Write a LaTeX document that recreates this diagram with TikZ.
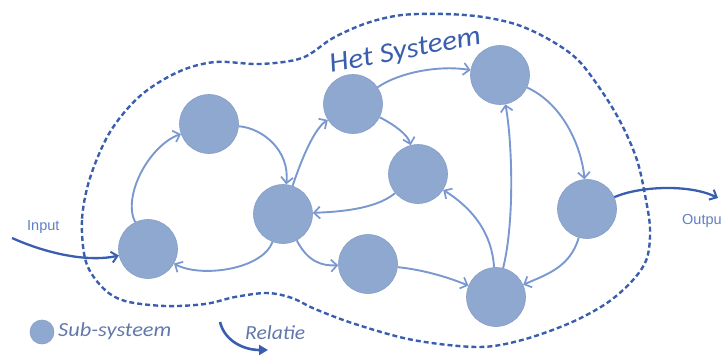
\documentclass[tikz,border=0pt]{standalone}
\usepackage{fontspec}
\newfontfamily\handfont{Carlito}
\newfontfamily\labfont{Liberation Sans}
\usetikzlibrary{arrows.meta}
\definecolor{nodefill}{RGB}{143,168,208}
\definecolor{nodeedge}{RGB}{135,158,200}
\definecolor{edgeblue}{RGB}{122,152,208}
\definecolor{darkblue}{RGB}{58,94,175}
\definecolor{labblue}{RGB}{95,128,196}
\definecolor{legtext}{RGB}{98,120,172}
\tikzset{
  sub/.style={circle,fill=nodefill,draw=nodeedge,line width=0.6pt,minimum size=59pt,inner sep=0pt},
  rel/.style={draw=edgeblue,line width=1.9pt,-{Straight Barb[length=6pt,width=12pt,line width=1.7pt]}},
  io/.style={draw=darkblue,line width=2.3pt,-{Straight Barb[length=6pt,width=11pt,line width=2pt]}},
  boundary/.style={draw=darkblue,line width=2.4pt,dash pattern=on 5pt off 3pt},
  iolabel/.style={font=\labfont\fontsize{14.5}{16}\selectfont,text=labblue,inner sep=0pt},
}
\begin{document}
\begin{tikzpicture}[x=1pt,y=-1pt]
\useasboundingbox (0,0) rectangle (721,356);
% system boundary
\draw[boundary] plot[smooth cycle,tension=0.55] coordinates {
 (90,178) (82,220) (86,262) (103,288) (125,301) (165,306) (205,304) (235,297) (267,293) (292,298)
 (315,309) (355,324) (413,340) (478,347) (522,340) (570,323) (607,303) (633,280) (647,258)
 (650,228) (645,195) (637,160) (622,125) (603,93) (578,60) (550,40) (518,25) (483,17) (445,14)
 (402,15) (367,23) (333,38) (302,58) (260,64) (215,62) (178,72) (140,96) (110,132)};
% title
\node[anchor=base west,rotate=11,inner sep=0pt,text=darkblue,font=\handfont\itshape\fontsize{28}{30}\selectfont] (title) at (331,73) {\scalebox{1.1}[1]{Het Systeem}};
% sub-systems
\node[sub] (A) at (148,249) {};
\node[sub] (B) at (209,124) {};
\node[sub] (C) at (283,214) {};
\node[sub] (D) at (353,104) {};
\node[sub] (E) at (418,174) {};
\node[sub] (F) at (368,264) {};
\node[sub] (G) at (500,75) {};
\node[sub] (H) at (587,209) {};
\node[sub] (I) at (496,297) {};
% relations
\draw[rel] (A) .. controls (122,195) and (150,145) .. (B);
\draw[rel] (B) .. controls (262,128) and (290,150) .. (C);
\draw[rel] (C) .. controls (262,270) and (200,278) .. (A);
\draw[rel] (C) .. controls (298,170) and (312,130) .. (D);
\draw[rel] (D) .. controls (400,72) and (440,65) .. (G);
\draw[rel] (D) .. controls (395,125) and (408,135) .. (E);
\draw[rel] (E) .. controls (375,210) and (335,212) .. (C);
\draw[rel] (C) .. controls (308,262) and (322,266) .. (F);
\draw[rel] (F) .. controls (425,270) and (450,278) .. (I);
\draw[rel] (I) .. controls (492,235) and (475,210) .. (E);
\draw[rel] (I) .. controls (515,220) and (512,140) .. (G);
\draw[rel] (G) .. controls (565,105) and (582,150) .. (H);
\draw[rel] (H) .. controls (570,268) and (545,275) .. (I);
% input / output
\coordinate (inS) at (12,238);
\coordinate (outE) at (718,198);
\draw[io] (inS) .. controls (50,255) and (90,262) .. (A);
\draw[io] (H) .. controls (640,186) and (690,184) .. (outE);
\node[iolabel,anchor=base west] (inlab) at (27,230) {Input};
\node[iolabel,anchor=base west] (outlab) at (682,224) {Output};
% legend
\node[sub,minimum size=24pt] (leg) at (42,332) {};
\node[anchor=base west,inner sep=0pt,text=legtext,font=\handfont\itshape\fontsize{20}{22}\selectfont] (legtxt) at (58,336) {\scalebox{1.12}[1]{Sub-systeem}};
\coordinate (r1) at (220,322);
\coordinate (r2) at (268,350);
\draw[draw=darkblue,line width=2.6pt,-{Triangle[length=9pt,width=10pt]}] (r1) .. controls (225,342) and (245,350) .. (r2);
\node[anchor=base west,inner sep=0pt,text=legtext,font=\handfont\itshape\fontsize{20}{22}\selectfont] (reltxt) at (245,339) {\scalebox{1.08}[1]{Relatie}};
\end{tikzpicture}
\end{document}
